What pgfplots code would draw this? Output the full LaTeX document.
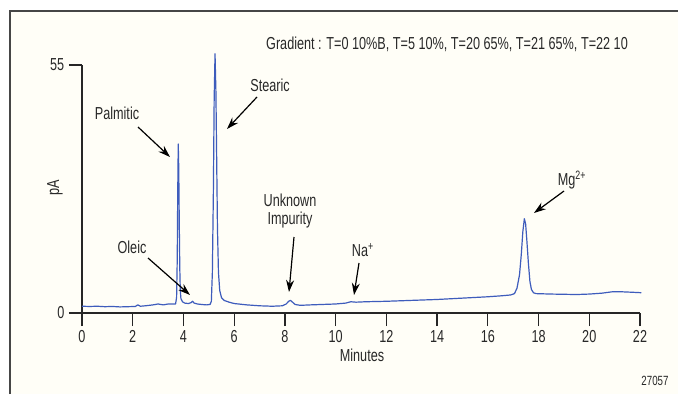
\documentclass[border=0pt]{standalone}
\usepackage{pgfplots}
\pgfplotsset{compat=1.18}
\usetikzlibrary{arrows.meta}
\usepackage{fontspec}
\setmainfont{Liberation Sans}[FakeStretch=0.73]
\definecolor{bg}{RGB}{255,254,247}
\definecolor{txt}{RGB}{40,40,40}
\definecolor{curve}{RGB}{62,92,188}
\definecolor{framec}{RGB}{70,70,70}

\pgfplotstableread{
x y
0.0 1.5
0.3 1.45
0.6 1.5
0.9 1.4
1.2 1.45
1.5 1.35
1.8 1.4
2.1 1.45
2.2 1.8
2.3 1.5
2.5 1.6
2.8 1.8
3.0 2.0
3.2 1.8
3.4 2.0
3.6 2.0
3.69 2.0
3.73 3.5
3.755 12
3.775 27
3.795 37.5
3.815 32
3.835 20
3.855 10
3.875 5
3.90 3.2
3.96 2.5
4.05 2.2
4.2 2.1
4.30 2.3
4.36 2.6
4.42 2.2
4.55 2.0
4.7 1.9
4.9 1.8
5.05 1.9
5.10 2.6
5.14 9
5.18 27
5.21 47
5.245 57.5
5.28 49
5.31 34
5.34 19
5.38 9
5.43 5
5.5 3.4
5.6 2.8
5.8 2.4
6.0 2.1
6.5 1.8
7.0 1.6
7.5 1.5
7.9 1.6
8.05 2.0
8.15 2.6
8.22 2.8
8.3 2.4
8.4 1.9
8.6 1.7
9.0 1.8
9.5 1.9
10.0 2.0
10.4 2.2
10.6 2.5
10.8 2.4
11.2 2.5
12.0 2.6
13.0 2.8
14.0 3.0
15.0 3.3
16.0 3.6
16.5 3.8
16.9 4.0
17.05 4.3
17.15 5.5
17.25 8.5
17.32 13
17.38 18
17.44 20.9
17.49 19.8
17.54 16
17.60 11
17.66 7
17.72 5.2
17.8 4.5
17.9 4.3
18.5 4.2
19.0 4.15
19.5 4.1
20.0 4.2
20.5 4.4
20.9 4.7
21.3 4.7
21.7 4.6
22.05 4.5
}\chrom

\begin{document}
\begin{tikzpicture}[x=0.75pt,y=0.75pt]
\useasboundingbox (0,0) rectangle (678,394);
\fill[white] (0,0) rectangle (678,394);
\fill[bg] (10,0) rectangle (678,383);
\draw[framec, line width=1.1pt] (10,0) -- (10,383) -- (678,383);

\begin{axis}[at={(61.5pt,60.75pt)}, anchor=south west, scale only axis,
  width=418.5pt, height=186pt,
  xmin=0, xmax=22, ymin=0, ymax=55,
  axis lines=left, axis line style={-, line width=0.9pt, black!85},
  tick align=outside, major tick length=9.75pt,
  tick style={line width=0.9pt, black!85},
  xtick={0,2,...,22}, ytick={0,55},
  ticklabel style={font=\fontsize{13}{15}\selectfont, text=txt},
  /pgf/number format/assume math mode=true,
  clip=false]
\addplot[curve, line width=0.9pt, line join=round] table[x=x,y=y] {\chrom};
\end{axis}

\begin{scope}[every node/.style={text=txt, font=\fontsize{13}{15}\selectfont}]
\node at (447,350) {Gradient : T=0 10\%B, T=5 10\%, T=20 65\%, T=21 65\%, T=22 10};
\node at (117,281) {Palmitic};
\node at (270,309) {Stearic};
\node at (132,147) {Oleic};
\node[align=center, inner sep=0pt] at (290,183) {Unknown\\[-1pt]Impurity};
\node at (363,144) {Na\textsuperscript{+}};
\node at (572,214) {Mg\textsuperscript{2+}};
\node at (362,39) {Minutes};
\node[rotate=90] at (55,206) {pA};
\node[font=\fontsize{10}{12}\selectfont] at (655,13) {27057};
\end{scope}

\begin{scope}[black, line width=0.9pt, -{Stealth[length=9pt,width=6pt]}]
\draw (138,267) -- (170,237);
\draw (257,297) -- (227,265);
\draw (148,136) -- (190,99);
\draw (294,157) -- (289,102);
\draw (359,131) -- (354,99);
\draw (564,203) -- (534,181);
\end{scope}
\end{tikzpicture}
\end{document}
